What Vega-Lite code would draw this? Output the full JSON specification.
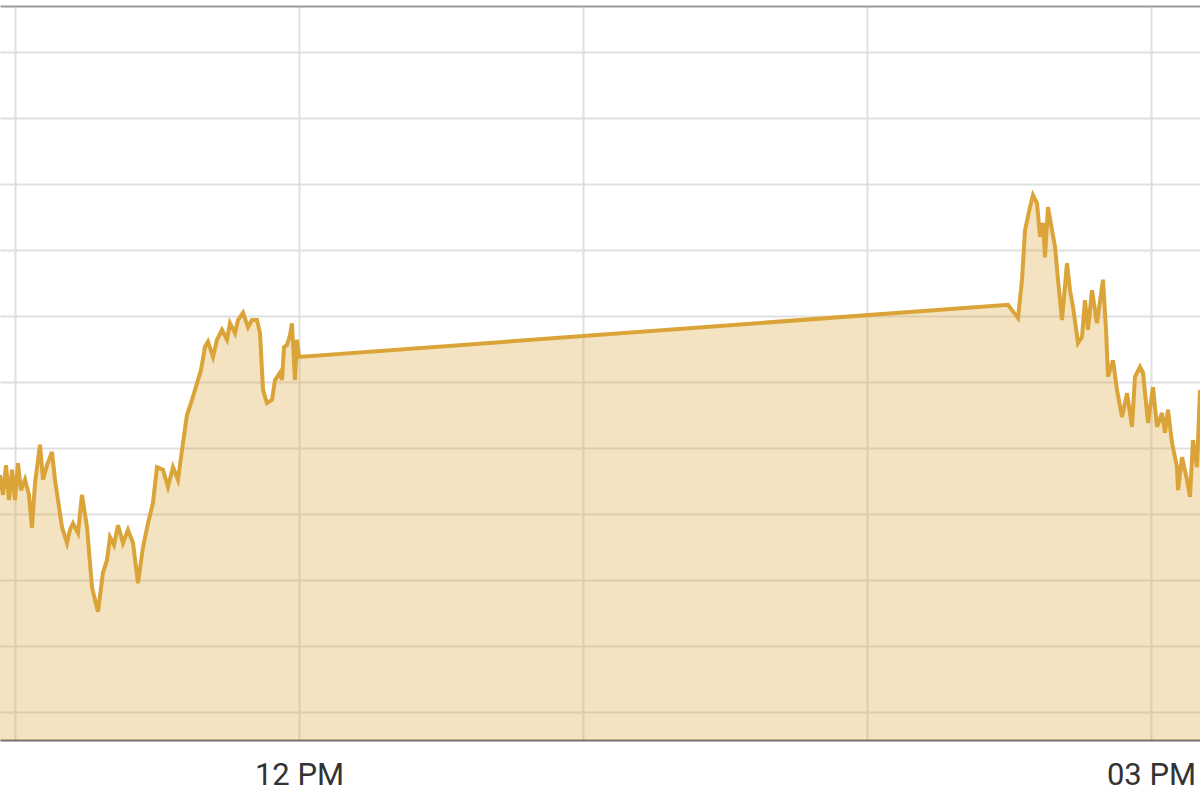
{
  "$schema": "https://vega.github.io/schema/vega-lite/v6.json",
  "width": 1200,
  "height": 734,
  "autosize": "none",
  "padding": {"top": 6, "left": 0, "right": 0, "bottom": 59},
  "background": "white",
  "config": {
    "view": {"stroke": null},
    "font": "Roboto"
  },
  "data": {
    "values": [
      {"time": "2024-01-02T10:56:50", "price": 13.59},
      {"time": "2024-01-02T10:57:28", "price": 13.29},
      {"time": "2024-01-02T10:58:06", "price": 13.74},
      {"time": "2024-01-02T10:58:44", "price": 13.21},
      {"time": "2024-01-02T10:59:22", "price": 13.67},
      {"time": "2024-01-02T11:00:00", "price": 13.21},
      {"time": "2024-01-02T11:00:38", "price": 13.77},
      {"time": "2024-01-02T11:01:16", "price": 13.36},
      {"time": "2024-01-02T11:02:07", "price": 13.52},
      {"time": "2024-01-02T11:02:57", "price": 13.29},
      {"time": "2024-01-02T11:03:35", "price": 12.79},
      {"time": "2024-01-02T11:04:14", "price": 13.47},
      {"time": "2024-01-02T11:05:17", "price": 14.05},
      {"time": "2024-01-02T11:05:55", "price": 13.52},
      {"time": "2024-01-02T11:06:46", "price": 13.74},
      {"time": "2024-01-02T11:07:49", "price": 13.94},
      {"time": "2024-01-02T11:08:27", "price": 13.52},
      {"time": "2024-01-02T11:09:05", "price": 13.21},
      {"time": "2024-01-02T11:09:56", "price": 12.80},
      {"time": "2024-01-02T11:10:59", "price": 12.56},
      {"time": "2024-01-02T11:11:37", "price": 12.76},
      {"time": "2024-01-02T11:12:15", "price": 12.86},
      {"time": "2024-01-02T11:13:19", "price": 12.71},
      {"time": "2024-01-02T11:14:09", "price": 13.29},
      {"time": "2024-01-02T11:15:13", "price": 12.80},
      {"time": "2024-01-02T11:16:16", "price": 11.89},
      {"time": "2024-01-02T11:16:54", "price": 11.70},
      {"time": "2024-01-02T11:17:32", "price": 11.52},
      {"time": "2024-01-02T11:18:35", "price": 12.11},
      {"time": "2024-01-02T11:19:26", "price": 12.30},
      {"time": "2024-01-02T11:20:04", "price": 12.65},
      {"time": "2024-01-02T11:20:55", "price": 12.53},
      {"time": "2024-01-02T11:21:46", "price": 12.83},
      {"time": "2024-01-02T11:22:49", "price": 12.56},
      {"time": "2024-01-02T11:23:52", "price": 12.76},
      {"time": "2024-01-02T11:24:56", "price": 12.56},
      {"time": "2024-01-02T11:25:59", "price": 11.95},
      {"time": "2024-01-02T11:27:03", "price": 12.50},
      {"time": "2024-01-02T11:28:06", "price": 12.86},
      {"time": "2024-01-02T11:29:09", "price": 13.17},
      {"time": "2024-01-02T11:30:00", "price": 13.71},
      {"time": "2024-01-02T11:31:16", "price": 13.67},
      {"time": "2024-01-02T11:32:19", "price": 13.41},
      {"time": "2024-01-02T11:33:23", "price": 13.71},
      {"time": "2024-01-02T11:34:26", "price": 13.52},
      {"time": "2024-01-02T11:35:17", "price": 13.97},
      {"time": "2024-01-02T11:36:20", "price": 14.50},
      {"time": "2024-01-02T11:37:24", "price": 14.73},
      {"time": "2024-01-02T11:38:27", "price": 14.98},
      {"time": "2024-01-02T11:39:18", "price": 15.18},
      {"time": "2024-01-02T11:40:08", "price": 15.53},
      {"time": "2024-01-02T11:40:46", "price": 15.61},
      {"time": "2024-01-02T11:41:50", "price": 15.38},
      {"time": "2024-01-02T11:42:41", "price": 15.64},
      {"time": "2024-01-02T11:43:44", "price": 15.79},
      {"time": "2024-01-02T11:44:47", "price": 15.64},
      {"time": "2024-01-02T11:45:25", "price": 15.89},
      {"time": "2024-01-02T11:46:29", "price": 15.74},
      {"time": "2024-01-02T11:47:07", "price": 15.94},
      {"time": "2024-01-02T11:48:10", "price": 16.05},
      {"time": "2024-01-02T11:49:14", "price": 15.83},
      {"time": "2024-01-02T11:50:04", "price": 15.94},
      {"time": "2024-01-02T11:51:08", "price": 15.94},
      {"time": "2024-01-02T11:51:46", "price": 15.74},
      {"time": "2024-01-02T11:52:24", "price": 14.88},
      {"time": "2024-01-02T11:53:14", "price": 14.68},
      {"time": "2024-01-02T11:54:18", "price": 14.73},
      {"time": "2024-01-02T11:54:56", "price": 15.03},
      {"time": "2024-01-02T11:55:59", "price": 15.14},
      {"time": "2024-01-02T11:56:25", "price": 15.03},
      {"time": "2024-01-02T11:56:50", "price": 15.53},
      {"time": "2024-01-02T11:57:28", "price": 15.56},
      {"time": "2024-01-02T11:58:06", "price": 15.71},
      {"time": "2024-01-02T11:58:31", "price": 15.89},
      {"time": "2024-01-02T11:59:09", "price": 15.03},
      {"time": "2024-01-02T11:59:35", "price": 15.64},
      {"time": "2024-01-02T12:00:00", "price": 15.38},
      {"time": "2024-01-02T14:29:47", "price": 16.17},
      {"time": "2024-01-02T14:31:54", "price": 15.97},
      {"time": "2024-01-02T14:32:45", "price": 16.55},
      {"time": "2024-01-02T14:33:23", "price": 17.30},
      {"time": "2024-01-02T14:34:26", "price": 17.65},
      {"time": "2024-01-02T14:35:04", "price": 17.83},
      {"time": "2024-01-02T14:35:55", "price": 17.71},
      {"time": "2024-01-02T14:36:33", "price": 17.20},
      {"time": "2024-01-02T14:37:11", "price": 17.41},
      {"time": "2024-01-02T14:37:36", "price": 16.89},
      {"time": "2024-01-02T14:38:14", "price": 17.65},
      {"time": "2024-01-02T14:39:05", "price": 17.30},
      {"time": "2024-01-02T14:39:43", "price": 17.05},
      {"time": "2024-01-02T14:40:21", "price": 16.55},
      {"time": "2024-01-02T14:41:12", "price": 15.94},
      {"time": "2024-01-02T14:42:15", "price": 16.80},
      {"time": "2024-01-02T14:42:53", "price": 16.39},
      {"time": "2024-01-02T14:43:31", "price": 16.14},
      {"time": "2024-01-02T14:44:35", "price": 15.59},
      {"time": "2024-01-02T14:45:25", "price": 15.68},
      {"time": "2024-01-02T14:46:03", "price": 16.24},
      {"time": "2024-01-02T14:46:41", "price": 15.79},
      {"time": "2024-01-02T14:47:32", "price": 16.39},
      {"time": "2024-01-02T14:48:35", "price": 15.89},
      {"time": "2024-01-02T14:49:51", "price": 16.55},
      {"time": "2024-01-02T14:50:30", "price": 15.79},
      {"time": "2024-01-02T14:50:55", "price": 15.08},
      {"time": "2024-01-02T14:51:58", "price": 15.33},
      {"time": "2024-01-02T14:52:49", "price": 14.88},
      {"time": "2024-01-02T14:53:52", "price": 14.47},
      {"time": "2024-01-02T14:54:56", "price": 14.83},
      {"time": "2024-01-02T14:55:59", "price": 14.32},
      {"time": "2024-01-02T14:56:37", "price": 15.08},
      {"time": "2024-01-02T14:57:41", "price": 15.23},
      {"time": "2024-01-02T14:58:19", "price": 15.14},
      {"time": "2024-01-02T14:59:22", "price": 14.38},
      {"time": "2024-01-02T15:00:25", "price": 14.92},
      {"time": "2024-01-02T15:01:16", "price": 14.32},
      {"time": "2024-01-02T15:02:19", "price": 14.53},
      {"time": "2024-01-02T15:02:57", "price": 14.23},
      {"time": "2024-01-02T15:03:35", "price": 14.58},
      {"time": "2024-01-02T15:04:26", "price": 14.08},
      {"time": "2024-01-02T15:05:30", "price": 13.71},
      {"time": "2024-01-02T15:05:42", "price": 13.36},
      {"time": "2024-01-02T15:06:33", "price": 13.86},
      {"time": "2024-01-02T15:07:36", "price": 13.52},
      {"time": "2024-01-02T15:08:14", "price": 13.26},
      {"time": "2024-01-02T15:08:52", "price": 14.12},
      {"time": "2024-01-02T15:09:43", "price": 13.71},
      {"time": "2024-01-02T15:10:21", "price": 14.88}
    ]
  },
  "encoding": {
    "y": {
      "field": "price",
      "type": "quantitative",
      "scale": {"domain": [9.5758, 20.697], "nice": false, "zero": false},
      "axis": {
        "title": null,
        "values": [10, 11, 12, 13, 14, 15, 16, 17, 18, 19, 20],
        "grid": true,
        "labels": false,
        "ticks": false,
        "domain": false,
        "gridColor": "#e0e0e0",
        "gridWidth": 2
      }
    }
  },
  "layer": [
    {
      "mark": {"type": "area", "color": "#dba438", "fillOpacity": 0.31, "clip": true},
      "encoding": {
        "x": {
          "field": "time",
          "type": "temporal",
          "scale": {
            "domain": [
              {"year": 2024, "month": 1, "date": 2, "hours": 10, "minutes": 56, "seconds": 50},
              {"year": 2024, "month": 1, "date": 2, "hours": 15, "minutes": 10, "seconds": 21}
            ],
            "nice": false
          },
          "axis": {
            "orient": "bottom",
            "title": null,
            "values": [
              {"year": 2024, "month": 1, "date": 2, "hours": 11},
              {"year": 2024, "month": 1, "date": 2, "hours": 12},
              {"year": 2024, "month": 1, "date": 2, "hours": 13},
              {"year": 2024, "month": 1, "date": 2, "hours": 14},
              {"year": 2024, "month": 1, "date": 2, "hours": 15}
            ],
            "labelExpr": "hours(datum.value) % 3 == 0 ? timeFormat(datum.value, '%I %p') : ''",
            "labelFont": "Roboto",
            "labelFontSize": 31,
            "labelColor": "#333333",
            "labelPadding": 20,
            "labelFlush": false,
            "labelOverlap": false,
            "ticks": false,
            "domainColor": "#707070",
            "domainWidth": 2,
            "gridColor": "#e0e0e0",
            "gridWidth": 2
          }
        }
      }
    },
    {
      "mark": {"type": "line", "color": "#dba438", "strokeWidth": 4, "clip": true},
      "encoding": {
        "x": {
          "field": "time",
          "type": "temporal",
          "axis": {
            "orient": "top",
            "title": null,
            "labels": false,
            "ticks": false,
            "grid": false,
            "domainColor": "#9a9a9a",
            "domainWidth": 2
          }
        }
      }
    }
  ]
}
